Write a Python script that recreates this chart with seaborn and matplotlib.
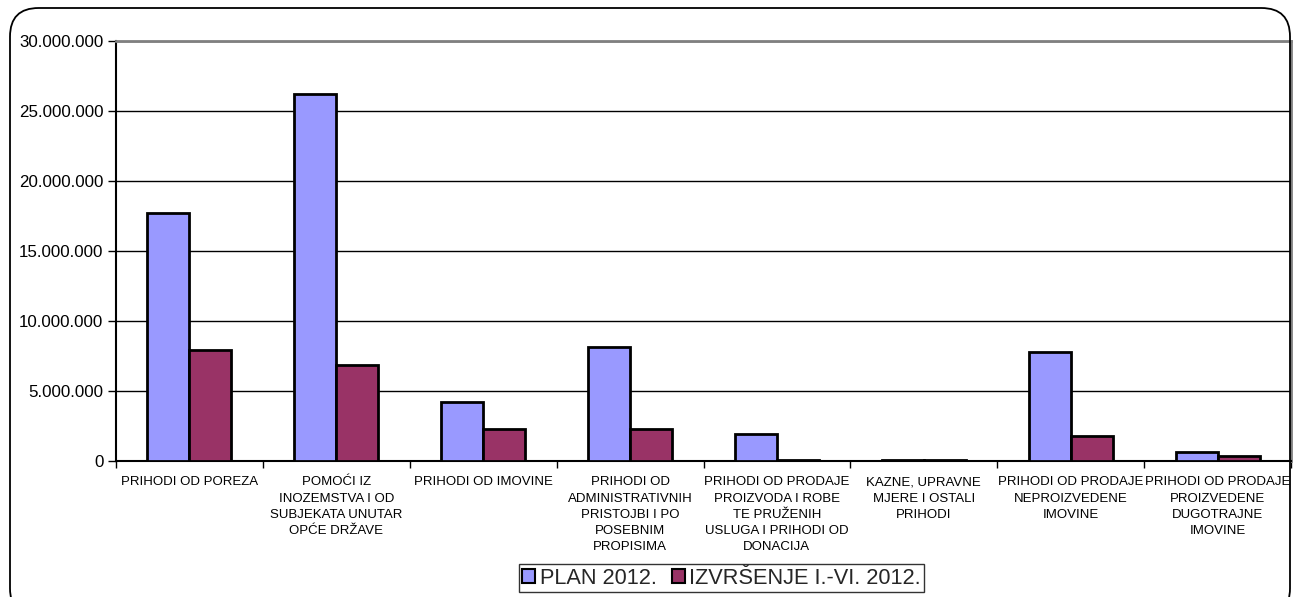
import matplotlib
matplotlib.use("Agg")
import matplotlib.pyplot as plt
import seaborn as sns
import pandas as pd
import numpy as np
from matplotlib.patches import FancyBboxPatch, Patch

categories = [
    "PRIHODI OD POREZA",
    "POMOĆI IZ\nINOZEMSTVA I OD\nSUBJEKATA UNUTAR\nOPĆE DRŽAVE",
    "PRIHODI OD IMOVINE",
    "PRIHODI OD\nADMINISTRATIVNIH\nPRISTOJBI I PO\nPOSEBNIM\nPROPISIMA",
    "PRIHODI OD PRODAJE\nPROIZVODA I ROBE\nTE PRUŽENIH\nUSLUGA I PRIHODI OD\nDONACIJA",
    "KAZNE, UPRAVNE\nMJERE I OSTALI\nPRIHODI",
    "PRIHODI OD PRODAJE\nNEPROIZVEDENE\nIMOVINE",
    "PRIHODI OD PRODAJE\nPROIZVEDENE\nDUGOTRAJNE\nIMOVINE",
]
series_names = ["PLAN 2012.", "IZVRŠENJE I.-VI. 2012."]
plan_2012 = [17700000, 26200000, 4210000, 8150000, 1950000, 40000, 7800000, 650000]
izvrsenje_2012 = [7930000, 6870000, 2290000, 2290000, 50000, 100000, 1800000, 330000]
yticks = [0, 5000000, 10000000, 15000000, 20000000, 25000000, 30000000]
ytick_labels = ["0", "5.000.000", "10.000.000", "15.000.000", "20.000.000", "25.000.000", "30.000.000"]
colors = ["#9999FF", "#993366"]

df = pd.DataFrame({
    "cat": categories * 2,
    "series": [series_names[0]] * len(categories) + [series_names[1]] * len(categories),
    "value": plan_2012 + izvrsenje_2012,
})

sns.set_theme(style="white")
plt.rcParams["font.family"] = ["Liberation Sans", "DejaVu Sans"]

fig = plt.figure(figsize=(13.03, 5.97), dpi=100)
ax = fig.add_axes([116/1303, 1 - 461/597, (1291-116)/1303, (461-41)/597])

sns.barplot(data=df, x="cat", y="value", hue="series", palette=colors,
            width=84/147, edgecolor="black", linewidth=2, saturation=1,
            ax=ax, legend=False, zorder=3)

ax.set_ylim(0, 30000000)
ax.set_xlim(-0.5, len(categories) - 0.5)
ax.set_yticks(yticks)
ax.set_yticklabels(ytick_labels, fontsize=12.2, color="black")
ax.yaxis.grid(True, color="black", linewidth=1)
ax.set_axisbelow(True)
ax.set_xlabel("")
ax.set_ylabel("")

ax.set_xticks(range(len(categories)))
ax.set_xticklabels(categories, fontsize=9.5, color="black", linespacing=1.47, va="top")
ax.tick_params(axis="x", which="major", length=0, pad=11)
ax.set_xticks(np.arange(-0.5, len(categories), 1.0), minor=True)
ax.tick_params(axis="x", which="minor", length=5, width=1, color="black", direction="out", bottom=True)
ax.tick_params(axis="y", length=6, width=1, color="black", direction="out", left=True, pad=3)

for s in ["left", "bottom"]:
    ax.spines[s].set_color("black")
    ax.spines[s].set_linewidth(1.5)
for s in ["top", "right"]:
    ax.spines[s].set_color("#808080")
    ax.spines[s].set_linewidth(2)
    ax.spines[s].set_visible(True)

handles = [Patch(facecolor=c, edgecolor="black", linewidth=1.5) for c in colors]
leg = fig.legend(handles, series_names, loc="center", bbox_to_anchor=(721.5/1303, 1 - 578/597),
                 ncol=2, fontsize=15.7, frameon=True, fancybox=False, handlelength=0.6,
                 handleheight=0.6, handletextpad=0.2, columnspacing=0.7, borderpad=0.15,
                 borderaxespad=0)
leg.get_frame().set_edgecolor("black")
leg.get_frame().set_linewidth(1)

border = FancyBboxPatch((10/1303, -20/597), (1290-10)/1303, (589+20)/597,
                        boxstyle="round,pad=0,rounding_size=0.022",
                        transform=fig.transFigure, fill=False, edgecolor="black",
                        linewidth=1.3, mutation_aspect=1303/597)
fig.patches.append(border)

fig.savefig("out.png", dpi=100)
